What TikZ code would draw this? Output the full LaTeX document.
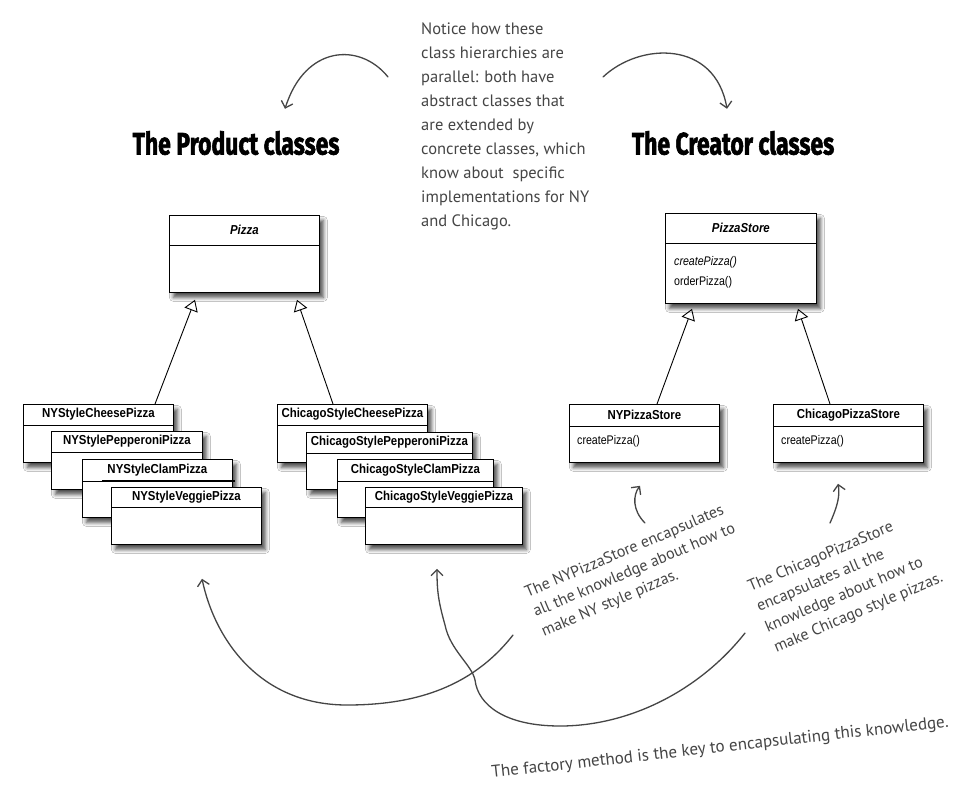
\documentclass[tikz,border=0pt]{standalone}
\usepackage{fontspec}
\setmainfont{Liberation Sans}
\newfontfamily\handfont{PT Sans}
\newfontfamily\headfont[BoldFeatures={FakeBold=2.2}]{Fira Sans}
\usetikzlibrary{arrows.meta,shadows.blur,calc}
\definecolor{hand}{HTML}{454545}
\tikzset{
 classbox/.style={draw=black, line width=0.8pt, fill=white, rectangle, inner sep=0pt, anchor=north west,
   blur shadow={shadow xshift=4pt, shadow yshift=-5pt, shadow blur steps=6, shadow blur radius=4pt, shadow opacity=70}},
 classtitle/.style={font=\fontsize{13}{15}\selectfont\bfseries, inner sep=0pt},
 method/.style={font=\fontsize{12.5}{14}\selectfont, inner sep=0pt, anchor=west},
 inherit/.style={line width=0.9pt, -{Triangle[open, length=11pt, width=14pt, line width=0.9pt]}},
 handarrow/.style={draw=hand, line width=1.3pt, line cap=round, -{Straight Barb[length=6pt, width=12pt, line width=1.3pt]}},
 handtext/.style={text=hand, font=\handfont\fontsize{16.5}{24}\selectfont, inner sep=0pt, align=left},
 annot/.style={text=hand, font=\handfont\fontsize{16}{21}\selectfont, inner sep=0pt, align=left},
 heading/.style={font=\headfont\bfseries\fontsize{31}{34}\selectfont, inner sep=0pt},
}
\newcommand\umlclass[8]{%
 \node[classbox, minimum width=#4pt, minimum height=#5pt] (#1) at (#2,#3) {};
 \draw[line width=0.8pt] ($(#1.north west)+(0,#6)$) -- ($(#1.north east)+(0,#6)$);
 \node[classtitle,#8] (#1-t) at ($(#1.north)+(0,#6/2)$) {\scalebox{0.88}[1]{#7}};
}
\newcommand\meth[1]{\scalebox{0.85}[1]{#1}}
\begin{document}
\begin{tikzpicture}[x=1pt,y=-1pt]
\useasboundingbox (0,0) rectangle (979,801);
\fill[white] (0,0) rectangle (979,801);

% headings
\node[heading] (prodhead) at (236,143) {\scalebox{0.74}[1]{The Product classes}};
\node[heading] (creahead) at (733,143) {\scalebox{0.74}[1]{The Creator classes}};

% top note
\node[handtext, anchor=north west] (note) at (421,23) {Notice how these\\class hierarchies are\\parallel: both have\\abstract classes that\\are extended by\\concrete classes, which\\know about\ \ specific\\implementations for NY\\and Chicago.};
\draw[handarrow] ($(note.north west)+(-33,54)$) .. controls (360,42) and (305,45) .. ($(prodhead.north)+(49,-22)$);
\draw[handarrow] ($(note.north west)+(182,54)$) .. controls (640,42) and (715,40) .. ($(creahead.north)+(-6,-22)$);

% product classes
\umlclass{pizza}{169}{215}{150}{77}{30}{Pizza}{font=\fontsize{13}{15}\selectfont\bfseries\itshape}
\umlclass{nycheese}{23}{404}{150}{58}{21}{NYStyleCheesePizza}{}
\umlclass{nypep}{51}{431}{151}{58}{21}{NYStylePepperoniPizza}{}
\umlclass{nyclam}{82}{459}{150}{58}{22}{NYStyleClamPizza}{}
\draw[line width=1.6pt] ($(nyclam.north west)+(20,22)$) -- ($(nyclam.north east)+(2,22)$);
\umlclass{nyveg}{111}{487}{150}{57}{20}{NYStyleVeggiePizza}{}

\umlclass{chcheese}{277}{404}{150}{58}{21}{ChicagoStyleCheesePizza}{}
\umlclass{chpep}{306}{432}{166}{57}{21}{ChicagoStylePepperoniPizza}{}
\umlclass{chclam}{337}{459}{156}{58}{22}{ChicagoStyleClamPizza}{}
\umlclass{chveg}{365}{487}{157}{57}{20}{ChicagoStyleVeggiePizza}{}

% creator classes
\umlclass{store}{665}{213}{151}{90}{30}{PizzaStore}{font=\fontsize{13}{15}\selectfont\bfseries\itshape}
\node[method] (store-m1) at ($(store.north west)+(9,49)$) {\meth{\itshape createPizza()}};
\node[method] (store-m2) at ($(store.north west)+(9,69)$) {\meth{orderPizza()}};
\umlclass{nystore}{569}{404}{150}{58}{22}{NYPizzaStore}{}
\node[method] (nystore-m1) at ($(nystore.north west)+(8,37)$) {\meth{createPizza()}};
\umlclass{chstore}{773}{404}{150}{58}{22}{ChicagoPizzaStore}{}
\node[method] (chstore-m1) at ($(chstore.north west)+(8,37)$) {\meth{createPizza()}};

% inheritance
\draw[inherit] ($(nycheese.north west)+(132,0)$) -- ($(pizza.south west)+(26,7)$);
\draw[inherit] ($(chcheese.north west)+(56,0)$) -- ($(pizza.south west)+(128,7)$);
\draw[inherit] ($(nystore.north west)+(88,0)$) -- ($(store.south west)+(27,5)$);
\draw[inherit] ($(chstore.north west)+(57,0)$) -- ($(store.south west)+(133,5)$);

% annotations
\node[annot, rotate=23, anchor=north west] (nyannot) at (523,587) {The NYPizzaStore encapsulates\\all the knowledge about how to\\make NY style pizzas.};
\node[annot, font=\handfont\fontsize{16}{22}\selectfont, rotate=23, anchor=north west] (channot) at (746,581) {The ChicagoPizzaStore\\encapsulates all the\\knowledge about how to\\make Chicago style pizzas.};
\node[annot, font=\handfont\fontsize{17}{20}\selectfont, rotate=6.4, anchor=base west] (factory) at (492,778) {The factory method is the key to encapsulating this knowledge.};

\draw[handarrow] (645,523) .. controls (632,510) and (633,495) .. ($(nystore.south west)+(71,23)$);
\draw[handarrow] (830,523) .. controls (838,505) and (840,495) .. ($(chstore.south west)+(65,21)$);

\draw[handarrow] (513,635) .. controls (470,690) and (410,705) .. (347,705) .. controls (260,705) and (215,640) .. ($(nyveg.south west)+(91,34)$);
\draw[handarrow] (745,633) .. controls (700,690) and (630,726) .. (560,726) .. controls (505,726) and (478,705) .. (475,680) .. controls (472,665) and (450,650) .. (445,625) .. controls (438,600) and (437,590) .. ($(chveg.south west)+(72,24)$);
\end{tikzpicture}
\end{document}
